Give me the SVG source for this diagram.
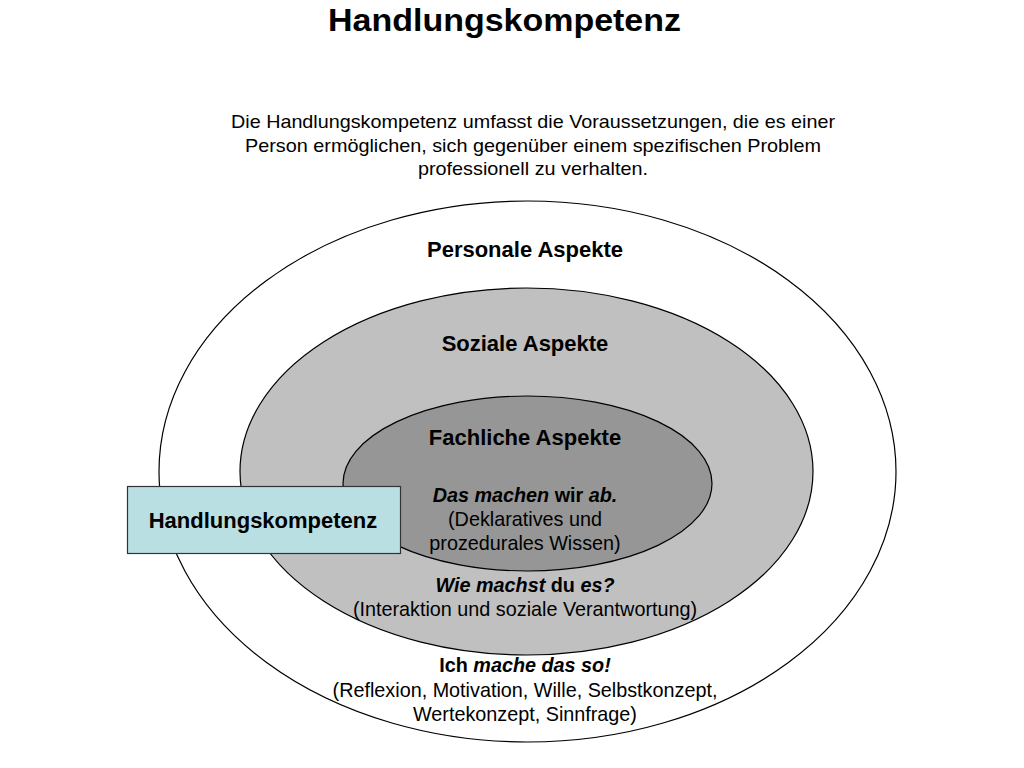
<svg xmlns="http://www.w3.org/2000/svg" width="1024" height="768" viewBox="0 0 1024 768">
<style>
text{font-family:"Liberation Sans",Arial,sans-serif;fill:#000;text-anchor:middle}
.t{font-size:31px;font-weight:bold}
.d{font-size:18.5px}
.h{font-size:22px;font-weight:bold}
.b{font-size:19.8px}
.bb{font-weight:bold}
.i{font-style:italic;font-weight:bold}
.e{stroke:#000;stroke-width:1.2}
</style>
<rect width="1024" height="768" fill="#fff"/>
<text class="t" x="504.5" y="31" textLength="353" lengthAdjust="spacingAndGlyphs">Handlungskompetenz</text>
<g id="description">
<text class="d" x="533" y="128" textLength="604" lengthAdjust="spacingAndGlyphs">Die Handlungskompetenz umfasst die Voraussetzungen, die es einer</text>
<text class="d" x="533" y="152" textLength="576" lengthAdjust="spacingAndGlyphs">Person ermöglichen, sich gegenüber einem spezifischen Problem</text>
<text class="d" x="533" y="175" textLength="230" lengthAdjust="spacingAndGlyphs">professionell zu verhalten.</text>
</g>
<g id="personal">
<ellipse class="e" cx="527.5" cy="471.5" rx="368.5" ry="270.5" fill="#fff"/>
<text class="h" x="525" y="257">Personale Aspekte</text>
<text class="b" x="525" y="672"><tspan class="bb">Ich </tspan><tspan class="i">mache das so!</tspan></text>
<text class="b" x="525" y="697">(Reflexion, Motivation, Wille, Selbstkonzept,</text>
<text class="b" x="525" y="721">Wertekonzept, Sinnfrage)</text>
</g>
<g id="social">
<ellipse class="e" cx="526.5" cy="471.5" rx="286.5" ry="183.5" fill="#c0c0c0"/>
<text class="h" x="525" y="351">Soziale Aspekte</text>
<text class="b" x="525" y="592"><tspan class="i">Wie machst</tspan><tspan class="bb"> du </tspan><tspan class="i">es?</tspan></text>
<text class="b" x="525" y="616">(Interaktion und soziale Verantwortung)</text>
</g>
<g id="technical">
<ellipse class="e" cx="527.5" cy="483.5" rx="184.5" ry="87.5" fill="#969696"/>
<text class="h" x="525" y="445">Fachliche Aspekte</text>
<text class="b" x="525" y="502"><tspan class="i">Das machen</tspan><tspan class="bb"> wir </tspan><tspan class="i">ab.</tspan></text>
<text class="b" x="525" y="526">(Deklaratives und</text>
<text class="b" x="525" y="550">prozedurales Wissen)</text>
</g>
<g id="box">
<rect x="127.5" y="486.5" width="273" height="67" fill="#b9dfe3" stroke="#333" stroke-width="1.2"/>
<text class="bb" x="263" y="528" style="font-size:22px">Handlungskompetenz</text>
</g>
<g id="connectors"/>
</svg>
